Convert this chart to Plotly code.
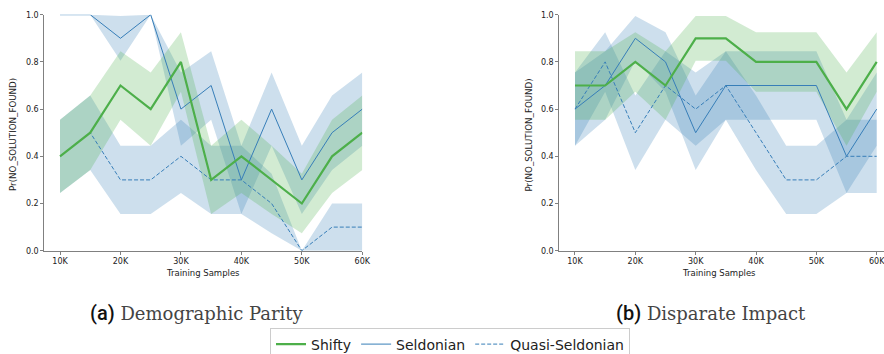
import plotly.graph_objects as go

W, H = 884, 354

# ---------------- data ----------------
samples = [10000, 15000, 20000, 25000, 30000, 35000, 40000, 45000, 50000, 55000, 60000]
x_tick_vals = [10000, 20000, 30000, 40000, 50000, 60000]
x_tick_labels = ["10K", "20K", "30K", "40K", "50K", "60K"]
y_tick_vals = [0.0, 0.2, 0.4, 0.6, 0.8, 1.0]
y_tick_labels = ["0.0", "0.2", "0.4", "0.6", "0.8", "1.0"]

# (a) Demographic Parity
dp_shifty = [0.4, 0.5, 0.7, 0.6, 0.8, 0.3, 0.4, 0.3, 0.2, 0.4, 0.5]
dp_shifty_lo = [0.245, 0.342, 0.555, 0.445, 0.674, 0.155, 0.245, 0.155, 0.074, 0.245, 0.342]
dp_shifty_hi = [0.555, 0.658, 0.845, 0.755, 0.926, 0.445, 0.555, 0.445, 0.326, 0.555, 0.658]
dp_seld = [1.0, 1.0, 0.9, 1.0, 0.6, 0.7, 0.3, 0.6, 0.3, 0.5, 0.6]
dp_seld_lo = [1.0, 1.0, 0.805, 1.0, 0.445, 0.555, 0.155, 0.445, 0.155, 0.342, 0.445]
dp_seld_hi = [1.0, 1.0, 0.995, 1.0, 0.755, 0.845, 0.445, 0.755, 0.445, 0.658, 0.755]
dp_quasi = [0.4, 0.5, 0.3, 0.3, 0.4, 0.3, 0.3, 0.2, 0.0, 0.1, 0.1]
dp_quasi_lo = [0.245, 0.342, 0.155, 0.155, 0.245, 0.155, 0.155, 0.074, 0.0, 0.0, 0.0]
dp_quasi_hi = [0.555, 0.658, 0.445, 0.445, 0.555, 0.445, 0.445, 0.326, 0.0, 0.2, 0.2]

# (b) Disparate Impact
di_shifty = [0.7, 0.7, 0.8, 0.7, 0.9, 0.9, 0.8, 0.8, 0.8, 0.6, 0.8]
di_shifty_lo = [0.555, 0.555, 0.674, 0.555, 0.805, 0.805, 0.674, 0.674, 0.674, 0.445, 0.674]
di_shifty_hi = [0.845, 0.845, 0.926, 0.845, 0.995, 0.995, 0.926, 0.926, 0.926, 0.755, 0.926]
di_seld = [0.6, 0.7, 0.9, 0.8, 0.5, 0.7, 0.7, 0.7, 0.7, 0.4, 0.6]
di_seld_lo = [0.445, 0.555, 0.805, 0.674, 0.342, 0.555, 0.555, 0.555, 0.555, 0.245, 0.445]
di_seld_hi = [0.755, 0.845, 0.995, 0.926, 0.658, 0.845, 0.845, 0.845, 0.845, 0.555, 0.755]
di_quasi = [0.6, 0.8, 0.5, 0.7, 0.6, 0.7, 0.5, 0.3, 0.3, 0.4, 0.4]
di_quasi_lo = [0.445, 0.674, 0.342, 0.555, 0.445, 0.555, 0.342, 0.155, 0.155, 0.245, 0.245]
di_quasi_hi = [0.755, 0.926, 0.658, 0.845, 0.755, 0.845, 0.658, 0.445, 0.445, 0.555, 0.555]

series_names = ["Shifty", "Seldonian", "Quasi-Seldonian"]
captions = [("(a)", "Demographic Parity"), ("(b)", "Disparate Impact")]
y_title = "Pr(NO_SOLUTION_FOUND)"
x_title = "Training Samples"

GREEN = "#4daf4a"
BLUE = "#377eb8"
GREEN_FILL = "rgba(77,175,74,0.25)"
BLUE_FILL = "rgba(55,126,184,0.25)"

fig = go.Figure()


def band(xa, ya, lo, hi, color):
    fig.add_trace(go.Scatter(
        x=samples + samples[::-1], y=hi + lo[::-1], fill="toself",
        fillcolor=color, line=dict(width=0), mode="lines",
        showlegend=False, hoverinfo="skip", xaxis=xa, yaxis=ya))


def line(xa, ya, y, color, width, dash, name, show, rank):
    fig.add_trace(go.Scatter(
        x=samples, y=y, mode="lines", name=name,
        line=dict(color=color, width=width, dash=dash),
        showlegend=show, legendrank=rank, xaxis=xa, yaxis=ya))


panels = [
    ("x", "y", dp_shifty, dp_shifty_lo, dp_shifty_hi, dp_seld, dp_seld_lo, dp_seld_hi,
     dp_quasi, dp_quasi_lo, dp_quasi_hi, True),
    ("x2", "y2", di_shifty, di_shifty_lo, di_shifty_hi, di_seld, di_seld_lo, di_seld_hi,
     di_quasi, di_quasi_lo, di_quasi_hi, False),
]
for xa, ya, sh, shl, shh, se, sel, seh, qu, qul, quh, show in panels:
    band(xa, ya, sel, seh, BLUE_FILL)
    band(xa, ya, qul, quh, BLUE_FILL)
    band(xa, ya, shl, shh, GREEN_FILL)
    line(xa, ya, se, BLUE, 1, "solid", series_names[1], show, 2)
    line(xa, ya, qu, BLUE, 1, "4px,2px", series_names[2], show, 3)
    line(xa, ya, sh, GREEN, 2.2, "solid", series_names[0], show, 1)

TICKFONT = dict(family="DejaVu Sans", size=8, color="#222")
axis_common = dict(showgrid=False, zeroline=False, showline=True, linecolor="#808080",
                   linewidth=1, ticks="outside", ticklen=3, tickcolor="#808080",
                   tickfont=TICKFONT, ticklabeloverflow="allow")

ydom = [1 - 250.7 / H, 1 - 14.7 / H]
fig.update_layout(
    width=W, height=H,
    margin=dict(l=0, r=0, t=0, b=0, autoexpand=False),
    paper_bgcolor="white", plot_bgcolor="white",
    xaxis=dict(domain=[44.3 / W, 362.3 / W], range=[7400, 60000],
               tickvals=x_tick_vals, ticktext=x_tick_labels, anchor="y", **axis_common),
    xaxis2=dict(domain=[559.3 / W, 1.0], range=[7400, 61210],
                tickvals=x_tick_vals, ticktext=x_tick_labels, anchor="y2", **axis_common),
    yaxis=dict(domain=ydom, range=[0, 1], tickvals=y_tick_vals, ticktext=y_tick_labels,
               anchor="x", **axis_common),
    yaxis2=dict(domain=ydom, range=[0, 1], tickvals=y_tick_vals, ticktext=y_tick_labels,
                anchor="x2", **axis_common),
    legend=dict(orientation="h", x=450 / W, xanchor="center", y=1 - 327.5 / H, yanchor="top",
                bgcolor="white", bordercolor="#cccccc", borderwidth=1,
                font=dict(family="DejaVu Sans", size=14, color="#222"),
                itemwidth=30, tracegroupgap=0),
    showlegend=True,
)

ann = []
# axis titles
for cx in (13, 528.5):
    ann.append(dict(x=cx / W, y=1 - 135 / H, xref="paper", yref="paper", text=y_title,
                    textangle=-90, showarrow=False, xanchor="center", yanchor="middle",
                    font=dict(family="DejaVu Sans", size=8.7, color="#222")))
for cx in (203, 719):
    ann.append(dict(x=cx / W, y=1 - 273 / H, xref="paper", yref="paper", text=x_title,
                    showarrow=False, xanchor="center", yanchor="middle",
                    font=dict(family="DejaVu Sans", size=8.5, color="#222")))
# captions
for (lab, cap), lx in zip(captions, (88, 614)):
    ann.append(dict(
        x=lx / W, y=1 - 312.5 / H, xref="paper", yref="paper",
        text='<span style="font-family:Roboto;font-weight:500;font-size:20px;color:#111">' + lab
             + '</span>&nbsp;' + cap,
        showarrow=False, xanchor="left", yanchor="middle",
        font=dict(family="DejaVu Serif", size=18, color="#444")))
fig.update_layout(annotations=ann)

fig.write_html("out.html")
